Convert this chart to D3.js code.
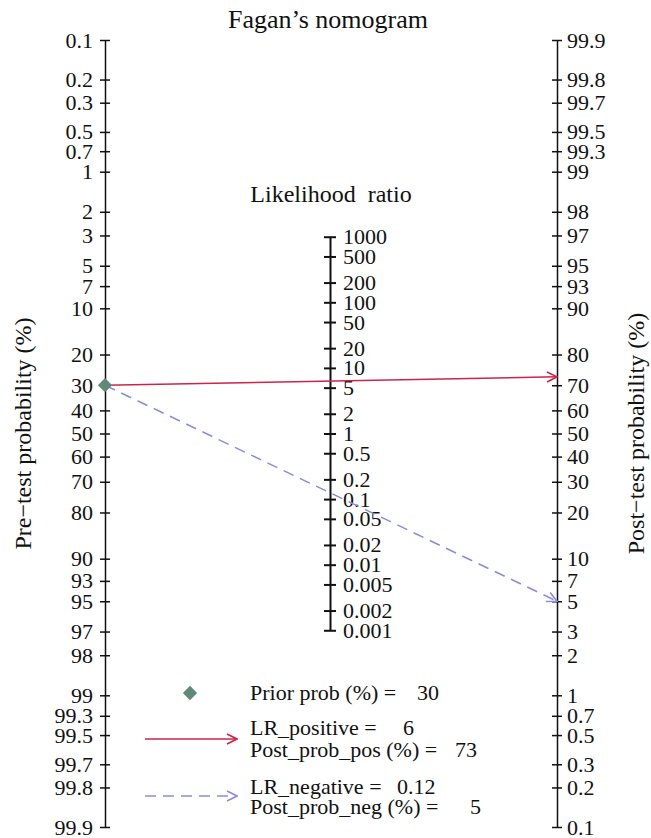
<!DOCTYPE html>
<html>
  <head>
    <meta charset="utf-8">
    <title>Fagan's nomogram</title>
    <style>
      body { margin: 0; background: #fff; }
      svg text { font-family: "Liberation Serif", "Times New Roman", "DejaVu Serif", serif; fill: #111; }
      .axis path, .axis line { stroke: #111; }
    </style>
  </head>
  <body>
    <div class='chart-container'></div>
    <script src="https://cdn.jsdelivr.net/npm/d3@7"></script>
    <script>
// values
var priorProb = 30;
var lrPositive = 6;
var postProbPos = 73;
var lrNegative = 0.12;
var postProbNeg = 5;

// tick labels
var probTicks = [0.1, 0.2, 0.3, 0.5, 0.7, 1, 2, 3, 5, 7, 10, 20, 30, 40, 50, 60, 70, 80,
  90, 93, 95, 97, 98, 99, 99.3, 99.5, 99.7, 99.8, 99.9];
var lrTicks = [1000, 500, 200, 100, 50, 20, 10, 5, 2, 1, 0.5, 0.2, 0.1, 0.05, 0.02, 0.01,
  0.005, 0.002, 0.001];

var width = 651, height = 838;
var yTop = 40, yBottom = 827;
var xPre = 105, xLR = 330, xPost = 557;
var posColor = '#c8264c';
var negColor = '#8c8ae0';
var priorColor = '#5f8a79';
var serif = '"Liberation Serif", "Times New Roman", serif';

function logit(pct) {
  var p = pct / 100;
  return Math.log(p / (1 - p));
}

var svg = d3.select('.chart-container').append('svg')
    .attr('width', width)
    .attr('height', height)
    .style('display', 'block');

// probability axes work on the logit of the percentage
var yPreLogit = d3.scaleLinear()
    .domain([logit(0.1), logit(99.9)])
    .range([yTop, yBottom]);
var yPostLogit = d3.scaleLinear()
    .domain([logit(99.9), logit(0.1)])
    .range([yTop, yBottom]);

// wrap as scales of the percentage itself so the axes can use them
function probScale(inner) {
  var s = function (p) { return inner(logit(p)); };
  s.range = function () { return inner.range(); };
  s.domain = function () { return [0.1, 99.9]; };
  s.copy = function () { return probScale(inner.copy()); };
  return s;
}
var yPre = probScale(yPreLogit);
var yPost = probScale(yPostLogit);

// likelihood ratio sits halfway, so half the slope in ln units
var mid = (yTop + yBottom) / 2;
var k = (yBottom - yTop) / (logit(99.9) - logit(0.1));
var yLR = d3.scaleLog()
    .domain([1000, 0.001])
    .range([mid - k / 2 * Math.log(1000), mid + k / 2 * Math.log(1000)]);

function fmt(d) { return String(d); }

function styleAxis(g, half, sw) {
  g.attr('class', 'axis').attr('font-family', serif);
  g.select('.domain').attr('stroke-width', sw);
  g.selectAll('.tick line')
      .attr('x1', -half)
      .attr('x2', half)
      .attr('stroke-width', sw);
  g.selectAll('.tick text')
      .style('font-size', '22px')
      .attr('fill', '#111');
}

var gPre = svg.append('g')
    .attr('transform', 'translate(' + xPre + ',0)')
    .call(d3.axisLeft(yPre).tickValues(probTicks).tickFormat(fmt)
      .tickSize(5).tickSizeOuter(0).tickPadding(7));
styleAxis(gPre, 5, 1.5);

var gPost = svg.append('g')
    .attr('transform', 'translate(' + xPost + ',0)')
    .call(d3.axisRight(yPost).tickValues(probTicks).tickFormat(fmt)
      .tickSize(5).tickSizeOuter(0).tickPadding(5));
styleAxis(gPost, 5, 1.5);

var gLR = svg.append('g')
    .attr('transform', 'translate(' + xLR + ',0)')
    .call(d3.axisRight(yLR).tickValues(lrTicks).tickFormat(fmt)
      .tickSize(6).tickSizeOuter(0).tickPadding(7));
styleAxis(gLR, 6, 2);

// titles
svg.append('text')
    .attr('x', 328).attr('y', 28)
    .attr('text-anchor', 'middle')
    .style('font-size', '26px')
    .text('Fagan\u2019s nomogram');

svg.append('text')
    .attr('x', xLR + 1).attr('y', 202)
    .attr('text-anchor', 'middle')
    .style('font-size', '24px')
    .style('white-space', 'pre')
    .text('Likelihood  ratio');

svg.append('text')
    .attr('transform', 'translate(31,' + mid + ') rotate(-90)')
    .attr('text-anchor', 'middle')
    .style('font-size', '24px')
    .text('Pre\u2212test probability (%)');

svg.append('text')
    .attr('transform', 'translate(644,' + mid + ') rotate(-90)')
    .attr('text-anchor', 'middle')
    .style('font-size', '24px')
    .text('Post\u2212test probability (%)');

// open arrow heads
var defs = svg.append('defs');
[['arrowPos', posColor], ['arrowNeg', negColor]].forEach(function (a) {
  defs.append('marker')
      .attr('id', a[0])
      .attr('viewBox', '0 0 12 12')
      .attr('refX', 11).attr('refY', 6)
      .attr('markerWidth', 12).attr('markerHeight', 12)
      .attr('markerUnits', 'userSpaceOnUse')
      .attr('orient', 'auto')
    .append('path')
      .attr('d', 'M1,1 L11,6 L1,11')
      .attr('fill', 'none')
      .attr('stroke', a[1])
      .attr('stroke-width', 1.6);
});

var lines = [
  {post: postProbPos, color: posColor, dash: null, marker: 'arrowPos'},
  {post: postProbNeg, color: negColor, dash: '11,7', marker: 'arrowNeg'}
];

svg.selectAll('line.nomo')
    .data(lines)
  .enter().append('line')
    .attr('class', 'nomo')
    .attr('x1', xPre)
    .attr('y1', yPre(priorProb))
    .attr('x2', xPost)
    .attr('y2', d => yPost(d.post))
    .attr('stroke', d => d.color)
    .attr('stroke-width', 1.5)
    .attr('stroke-dasharray', d => d.dash)
    .attr('marker-end', d => 'url(#' + d.marker + ')');

svg.append('path')
    .attr('d', d3.symbol().type(d3.symbolDiamond2).size(130)())
    .attr('transform', 'translate(' + xPre + ',' + yPre(priorProb) + ')')
    .attr('fill', priorColor);

// legend
var legX = 145, legX2 = 237, txtX = 250;
svg.append('path')
    .attr('d', d3.symbol().type(d3.symbolDiamond2).size(130)())
    .attr('transform', 'translate(190,693)')
    .attr('fill', priorColor);

svg.append('line')
    .attr('x1', legX).attr('x2', legX2)
    .attr('y1', 739).attr('y2', 739)
    .attr('stroke', posColor).attr('stroke-width', 1.5)
    .attr('marker-end', 'url(#arrowPos)');

svg.append('line')
    .attr('x1', legX).attr('x2', legX2)
    .attr('y1', 796).attr('y2', 796)
    .attr('stroke', negColor).attr('stroke-width', 1.5)
    .attr('stroke-dasharray', '11,7')
    .attr('marker-end', 'url(#arrowNeg)');

var legendRows = [
  {label: 'Prior prob (%) =', value: priorProb, y: 700, vx: 417},
  {label: 'LR_positive =', value: lrPositive, y: 735, vx: 403},
  {label: 'Post_prob_pos (%) =', value: postProbPos, y: 757, vx: 455},
  {label: 'LR_negative =', value: lrNegative, y: 794, vx: 397},
  {label: 'Post_prob_neg (%) =', value: postProbNeg, y: 814, vx: 470}
];

var rows = svg.selectAll('g.leg')
    .data(legendRows)
  .enter().append('g')
    .attr('class', 'leg');
rows.append('text')
    .attr('x', txtX).attr('y', d => d.y)
    .style('font-size', '22px')
    .text(d => d.label);
rows.append('text')
    .attr('x', d => d.vx).attr('y', d => d.y)
    .style('font-size', '22px')
    .text(d => String(d.value));
    </script>
  </body>
</html>
